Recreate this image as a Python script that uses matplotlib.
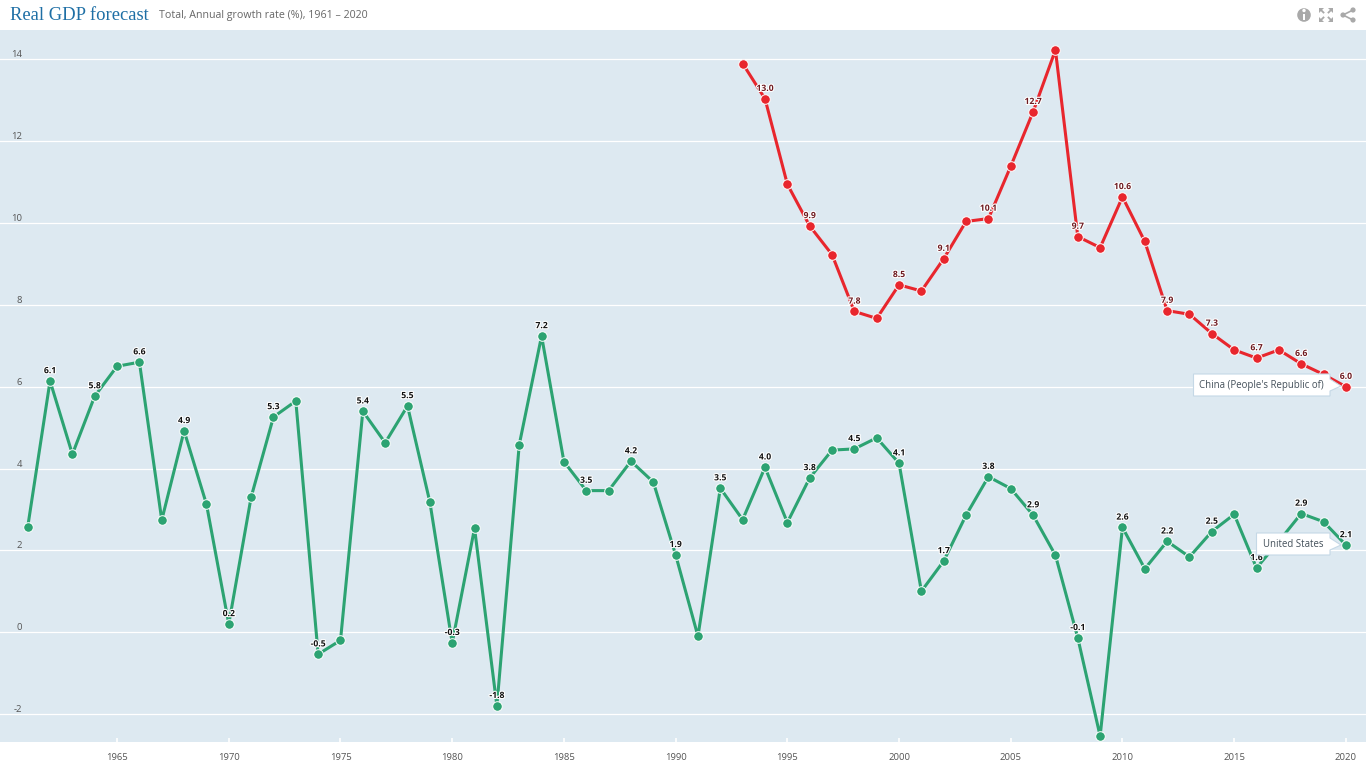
import matplotlib
matplotlib.use('Agg')
import matplotlib.pyplot as plt
import matplotlib.patheffects as pe
from matplotlib.patches import Circle, Polygon, Rectangle
from matplotlib.lines import Line2D
from matplotlib.transforms import IdentityTransform

plt.rcParams['font.family'] = ['Open Sans', 'DejaVu Sans']

# data
us_years = list(range(1961, 2021))
us_growth = [2.57, 6.14, 4.35, 5.77, 6.5, 6.6, 2.74, 4.92, 3.13, 0.2,
             3.3, 5.26, 5.65, -0.54, -0.2, 5.4, 4.63, 5.53, 3.18, -0.26,
             2.54, -1.8, 4.58, 7.24, 4.17, 3.46, 3.46, 4.18, 3.67, 1.89,
             -0.1, 3.52, 2.75, 4.03, 2.68, 3.77, 4.45, 4.48, 4.75, 4.13,
             1.0, 1.74, 2.86, 3.8, 3.51, 2.86, 1.88, -0.14, -2.54, 2.56,
             1.55, 2.22, 1.84, 2.46, 2.88, 1.57, 2.22, 2.9, 2.7, 2.13]
china_years = list(range(1993, 2021))
china_growth = [13.9, 13.04, 10.95, 9.93, 9.23, 7.84, 7.67, 8.49, 8.34, 9.13,
                10.04, 10.11, 11.39, 12.72, 14.23, 9.67, 9.4, 10.64, 9.55, 7.86,
                7.77, 7.3, 6.9, 6.7, 6.9, 6.56, 6.3, 6.0]

x_ticks = list(range(1965, 2021, 5))
y_ticks = [-2, 0, 2, 4, 6, 8, 10, 12, 14]

BG = '#DDE9F1'
GREEN = '#2CA372'
RED = '#E8262D'
W, H = 1366, 767


def px(x, y):
    # screen style pixel position, y counted from the top
    return (x, H - y)


fig = plt.figure(figsize=(W / 100, H / 100), dpi=100, facecolor='white')
ax = fig.add_axes([0, (H - 742) / H, 1, (742 - 30) / H], facecolor=BG)

ax.set_xlim(1959.76, 2020.9)
ax.set_ylim(-2.685, 14.72)
for s in ax.spines.values():
    s.set_visible(False)

ax.set_yticks(y_ticks)
ax.set_yticklabels([str(v) for v in y_ticks], fontsize=6.8, color='#555555', va='bottom')
ax.tick_params(axis='y', length=0, pad=-16)
ax.set_xticks(x_ticks)
ax.set_xticklabels([str(v) for v in x_ticks], fontsize=6.8, color='#555555')
ax.tick_params(axis='x', direction='in', length=3, width=1.2, color='white', pad=7.8)
ax.grid(axis='y', color='white', linewidth=0.9)
ax.set_axisbelow(True)


def draw_series(years, values, color, text_color):
    ax.plot(years, values, color=color, linewidth=2.2, solid_joinstyle='round', zorder=3,
            marker='o', markersize=6.9, markerfacecolor=color,
            markeredgecolor='white', markeredgewidth=0.7)
    # every other year carries a value label
    for yr, v in zip(years, values):
        if yr % 2 == 0:
            ax.annotate(f'{v:.1f}', (yr, v), xytext=(0, 4.2), textcoords='offset points',
                        ha='center', va='bottom', fontsize=6.2, fontweight='bold',
                        color=text_color, zorder=4,
                        path_effects=[pe.withStroke(linewidth=1.6, foreground='white')])


draw_series(us_years, us_growth, GREEN, '#111111')
draw_series(china_years, china_growth, RED, '#6E1A20')


def callout(x0, x1, y0, y1, tip, label):
    tx, ty = tip
    ym = (y0 + y1) / 2
    pts = [px(x0, y0), px(x1, y0), px(x1, ym - 6), px(tx, ty), px(x1, ym + 6), px(x1, y1), px(x0, y1)]
    fig.add_artist(Polygon(pts, closed=True, transform=IdentityTransform(), facecolor='white',
                           edgecolor='#C5D8E6', linewidth=0.8, zorder=6))
    fig.text((x0 + x1) / 2 / W, (H - ym - 0.5) / H, label, ha='center', va='center',
             fontsize=6.9, color='#44505A', zorder=7)


callout(1193.5, 1330, 374, 396, (1341, 386), "China (People's Republic of)")
callout(1256.5, 1330, 533, 555, (1341, 545), 'United States')

# header
fig.text(10 / W, (H - 15) / H, 'Real GDP forecast', fontsize=13.4, family='Liberation Serif',
         color='#1E6FA5', ha='left', va='center')
fig.text(159 / W, (H - 15.5) / H, 'Total, Annual growth rate (%), 1961 – 2020', fontsize=7.7,
         color='#666666', ha='left', va='center')

# toolbar icons
ICON = '#A9A9A9'
tr = IdentityTransform()
fig.add_artist(Circle(px(1304, 15), 6.8, transform=tr, facecolor=ICON, edgecolor='none'))
fig.add_artist(Rectangle(px(1302.6, 20), 2.8, 6.5, transform=tr, facecolor='white', edgecolor='none'))
fig.add_artist(Circle(px(1304, 10.5), 1.7, transform=tr, facecolor='white', edgecolor='none'))

for sx, sy in [(-1, -1), (1, -1), (-1, 1), (1, 1)]:
    cx, cy = 1326 + sx * 7, 15 + sy * 7
    fig.add_artist(Polygon([px(cx, cy), px(cx - sx * 5, cy), px(cx, cy - sy * 5)], closed=True,
                           transform=tr, facecolor=ICON, edgecolor='none'))
    fig.add_artist(Line2D([cx - sx * 2, cx - sx * 4.5], [H - cy + sy * 2, H - cy + sy * 4.5],
                          transform=tr, color=ICON, linewidth=1.3))

for p in [(1343, 15), (1353, 10), (1353, 20)]:
    fig.add_artist(Circle(px(*p), 2.6, transform=tr, facecolor=ICON, edgecolor='none'))
    if p[0] != 1343:
        fig.add_artist(Line2D([1343, p[0]], [H - 15, H - p[1]], transform=tr, color=ICON, linewidth=1.2))

fig.savefig('out.png', dpi=100, facecolor='white')
